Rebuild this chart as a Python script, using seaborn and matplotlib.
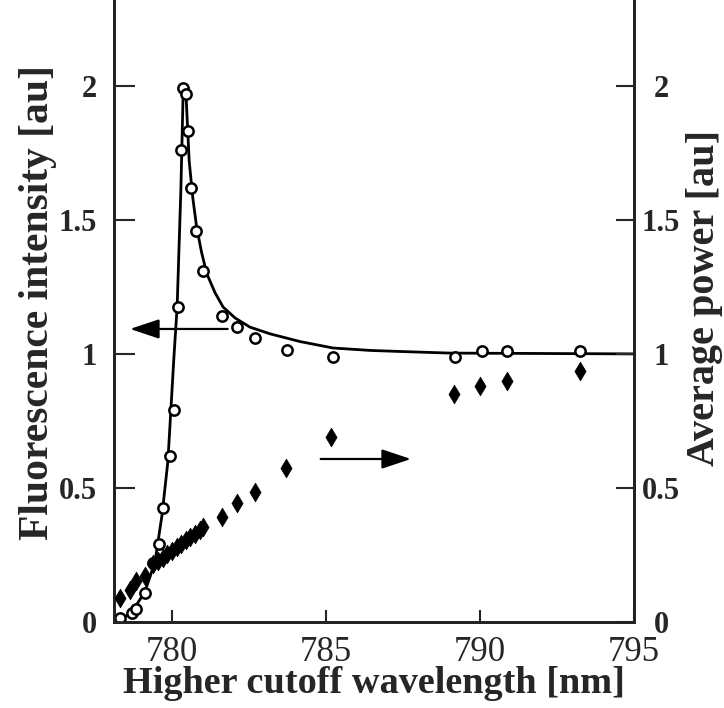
import matplotlib
matplotlib.use("Agg")
import matplotlib.pyplot as plt
import seaborn as sns

# Fluorescence intensity (open circles, left axis)
fl_x = [778.33, 778.69, 778.85, 779.12, 779.38, 779.58, 779.70, 779.94, 780.06,
        780.20, 780.29, 780.37, 780.45, 780.53, 780.61, 780.77, 781.02, 781.61,
        782.10, 782.69, 783.72, 785.22, 789.19, 790.05, 790.87, 793.25]
fl_y = [0.015, 0.034, 0.049, 0.11, 0.22, 0.29, 0.425, 0.62, 0.79,
        1.175, 1.76, 1.99, 1.97, 1.83, 1.62, 1.46, 1.31, 1.14,
        1.10, 1.06, 1.015, 0.99, 0.988, 1.01, 1.01, 1.01]

# Fitted curve (solid line, left axis)
fit_x = [778.31, 778.70, 779.12, 779.45, 779.68, 779.87, 780.06, 780.17, 780.29,
         780.37, 780.45, 780.56, 780.68, 780.80, 780.96, 781.13, 781.40, 781.66,
         782.05, 782.53, 783.18, 784.16, 785.23, 786.43, 787.40, 789.03, 795.0]
fit_y = [0.007, 0.037, 0.112, 0.224, 0.40, 0.60, 0.978, 1.177, 1.61,
         2.00, 1.985, 1.72, 1.58, 1.475, 1.38, 1.30, 1.228, 1.175,
         1.134, 1.10, 1.075, 1.046, 1.022, 1.013, 1.009, 1.003, 1.0]

# Average power (filled diamonds, right axis)
pw_x = [778.33, 778.64, 778.85, 779.12, 779.40, 779.55, 779.70, 779.85, 780.00,
        780.15, 780.30, 780.45, 780.60, 780.75, 780.90, 781.02, 781.61, 782.10,
        782.69, 783.70, 785.18, 789.16, 790.00, 790.87, 793.25]
pw_y = [0.088, 0.12, 0.153, 0.172, 0.215, 0.228, 0.240, 0.252, 0.265,
        0.278, 0.292, 0.305, 0.318, 0.330, 0.342, 0.353, 0.393, 0.443,
        0.486, 0.574, 0.69, 0.85, 0.88, 0.90, 0.937]

x_ticks = [780, 785, 790, 795]
y_ticks = [0, 0.5, 1, 1.5, 2]
y_tick_labels = ["0", "0.5", "1", "1.5", "2"]

sns.set_style("ticks")
plt.rcParams["font.family"] = ["Liberation Serif", "DejaVu Serif"]

fig = plt.figure(figsize=(7.24, 7.08), dpi=100)
ax = fig.add_axes([114 / 724, 86 / 708, 520 / 724, 622 / 708])
ax2 = ax.twinx()

sns.lineplot(x=fit_x, y=fit_y, ax=ax, color="black", lw=2, sort=False)
sns.scatterplot(x=fl_x, y=fl_y, ax=ax, marker="o", s=55, facecolor="white",
                edgecolor="black", linewidth=1.8, zorder=3)
sns.scatterplot(x=pw_x, y=pw_y, ax=ax2, marker="d", s=90, color="black",
                edgecolor="black", linewidth=0.5, zorder=3)

xlim = (778.12, 795.0)
ylim = (0, 2.32)
for a in (ax, ax2):
    a.set_xlim(*xlim)
    a.set_ylim(*ylim)
    a.spines["top"].set_visible(False)
    for s in ("left", "right", "bottom"):
        a.spines[s].set_linewidth(2)
        a.spines[s].set_color("#222222")

ax.set_xticks(x_ticks)
ax.set_xticklabels([str(t) for t in x_ticks])
ax.set_yticks(y_ticks)
ax.set_yticklabels(y_tick_labels)
ax2.set_yticks(y_ticks)
ax2.set_yticklabels(y_tick_labels)

ax.tick_params(axis="x", direction="in", length=9, width=1.5, labelsize=25, pad=10)
ax.tick_params(axis="y", direction="in", length=15, width=1.5, labelsize=22, pad=12)
ax2.tick_params(axis="y", direction="in", length=13, width=1.5, labelsize=22, pad=19.5)
for lab in ax.get_yticklabels():
    lab.set_fontweight("bold")
for lab in ax2.get_yticklabels():
    lab.set_fontweight("bold")
    lab.set_horizontalalignment("center")

ax.set_xlabel("Higher cutoff wavelength [nm]", fontsize=27.5, fontweight="bold", labelpad=-2)
ax.set_ylabel("Fluorescence intensity [au]", fontsize=30, fontweight="bold")
ax2.set_ylabel("Average power [au]", fontsize=29, fontweight="bold")
ax.yaxis.set_label_coords(-0.146, 0.514)
ax2.yaxis.set_label_coords(1.1365, 0.521)
for lbl in (ax.yaxis.label, ax2.yaxis.label):
    lbl.set_verticalalignment("center")
    lbl.set_horizontalalignment("center")

# Arrows indicating axes
ax.annotate("", xy=(778.55, 1.093), xytext=(781.9, 1.093),
            arrowprops=dict(arrowstyle="-|>,head_length=1.8,head_width=0.6",
                            color="black", lw=1.6))
ax.annotate("", xy=(787.85, 0.608), xytext=(784.74, 0.608),
            arrowprops=dict(arrowstyle="-|>,head_length=1.8,head_width=0.6",
                            color="black", lw=1.6))

fig.savefig("out.png", dpi=100)
